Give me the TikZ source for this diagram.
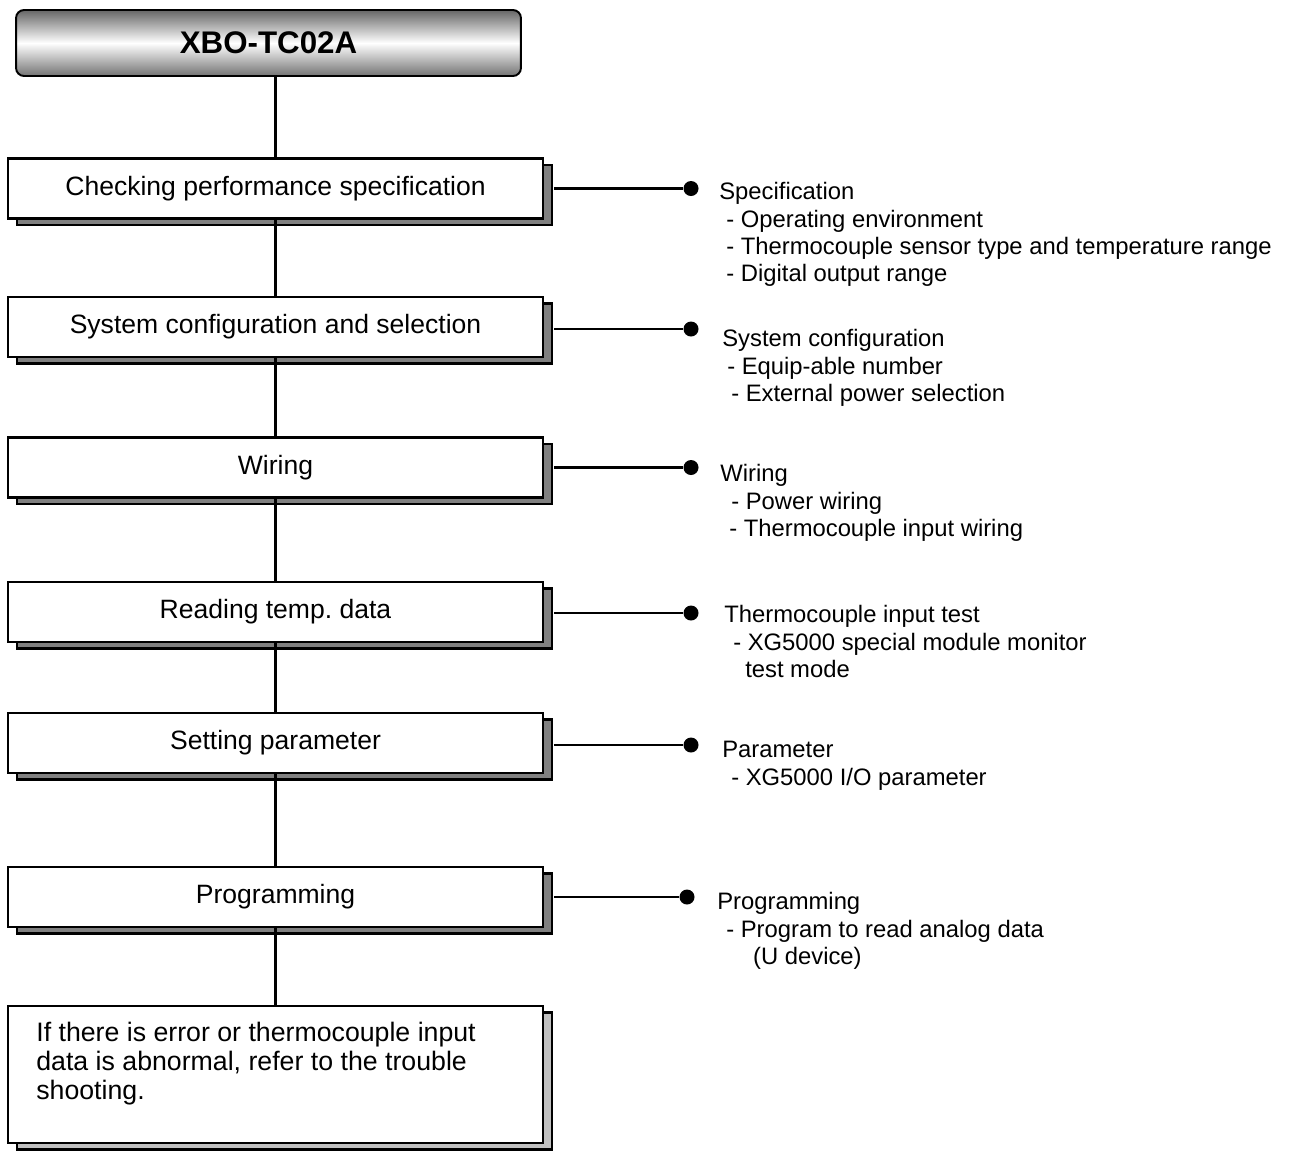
\documentclass[tikz,border=0pt]{standalone}
\usepackage{fontspec}
\setmainfont{Liberation Sans}
\usetikzlibrary{shadows}

\definecolor{shadowgray}{RGB}{128,128,128}
\definecolor{notegray}{RGB}{192,192,192}

\tikzset{
  titlebox/.style={draw, line width=1.1pt, rounded corners=0.16cm,
    top color=black!60, bottom color=black!55, middle color=white,
    minimum width=10.1cm, minimum height=1.32cm,
    font=\bfseries\fontsize{17.8}{20}\selectfont},
  stepbox/.style={draw, line width=1.2pt, fill=white,
    minimum width=10.7cm, minimum height=1.2cm,
    font=\fontsize{15.1}{18}\selectfont,
    drop shadow={shadow xshift=0.18cm, shadow yshift=-0.13cm,
      fill=#1, draw=black, line width=1.2pt, opacity=1}},
  stepbox/.default=shadowgray,
  notetext/.style={anchor=north west, inner sep=0pt, align=left,
    font=\fontsize{15.2}{16.4}\selectfont},
  infotext/.style={anchor=north west, inner sep=0pt, align=left,
    font=\fontsize{13.55}{15.6}\selectfont},
  dot/.style={circle, fill=black, inner sep=0pt, minimum size=0.3cm},
  link/.style={line width=1.4pt}
}

\begin{document}
\frenchspacing
\begin{tikzpicture}[x=0.02cm, y=-0.02cm]
  \useasboundingbox (0,0) rectangle (1291,1154);

  % module title
  \node[titlebox] (title) at (268.5, 43) {XBO-TC02A};

  % working steps
  \node[stepbox] (s1) at (275.5, 188.5) {Checking performance specification};
  \node[stepbox] (s2) at (275.5, 327) {System configuration and selection};
  \node[stepbox] (s3) at (275.5, 467.5) {Wiring};
  \node[stepbox] (s4) at (275.5, 612) {Reading temp. data};
  \node[stepbox] (s5) at (275.5, 743) {Setting parameter};
  \node[stepbox] (s6) at (275.5, 897) {Programming};
  \node[stepbox=notegray, minimum height=2.74cm] (s7) at (275.5, 1074.5) {};
  \node[notetext] (s7txt) at (36, 1022)
    {If there is error or thermocouple input\\
     data is abnormal, refer to the trouble\\
     shooting.};

  % main line
  \draw[link] (title.south -| s1.north) -- (s1.north);
  \foreach \a/\b in {s1/s2, s2/s3, s3/s4, s4/s5, s5/s6, s6/s7}
    \draw[link] (\a.south) -- (\b.north);

  % bullets on the right
  \node[dot] (d1) at (691, 188.5) {};
  \node[dot] (d2) at (691, 329) {};
  \node[dot] (d3) at (691, 467.5) {};
  \node[dot] (d4) at (691, 613) {};
  \node[dot] (d5) at (691, 745) {};
  \node[dot] (d6) at (687, 897) {};
  \foreach \n in {1,...,6}
    \draw[link] ([xshift=0.2cm]s\n.east |- d\n) -- (d\n);

  % details of each step
  \node[infotext] (i1) at (719, 182)
    {Specification\\
     \hspace*{4pt}- Operating environment\\
     \hspace*{4pt}- Thermocouple sensor type and temperature range\\
     \hspace*{4pt}- Digital output range};
  \node[infotext] (i2) at (722, 329)
    {System configuration\\
     \hspace*{2.8pt}- Equip-able number\\
     \hspace*{5.1pt}- External power selection};
  \node[infotext] (i3) at (720, 464)
    {Wiring\\
     \hspace*{6.2pt}- Power wiring\\
     \hspace*{5.1pt}- Thermocouple input wiring};
  \node[infotext] (i4) at (724, 605)
    {Thermocouple input test\\
     \hspace*{5.1pt}- XG5000 special module monitor\\
     \hspace*{11.9pt}test mode};
  \node[infotext] (i5) at (722, 741)
    {Parameter\\
     \hspace*{5.1pt}- XG5000 I/O parameter};
  \node[infotext] (i6) at (717, 892)
    {Programming\\
     \hspace*{5.1pt}- Program to read analog data\\
     \hspace*{20.4pt}(U device)};
\end{tikzpicture}
\end{document}
